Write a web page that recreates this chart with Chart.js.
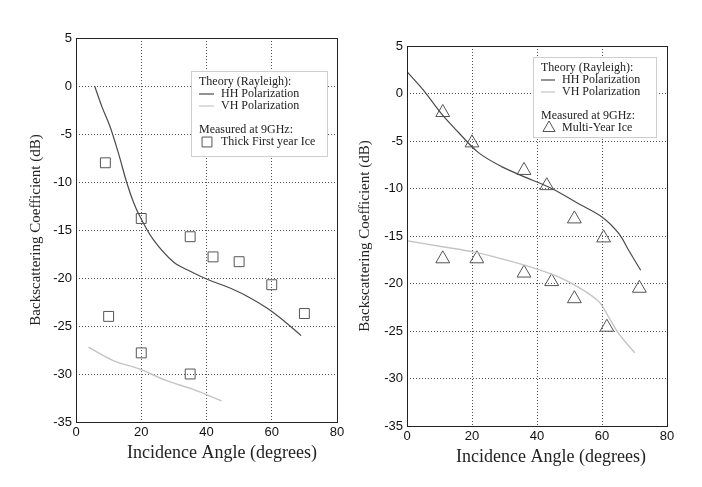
<!DOCTYPE html>
<html>
<head>
<meta charset="utf-8">
<script src="https://cdn.jsdelivr.net/npm/chart.js@4/dist/chart.umd.min.js"></script>
<style>
  body { margin: 0; background: #fff; }
  .wrap { position: absolute; top: 0; width: 351px; height: 487px; }
</style>
</head>
<body>
<div class="wrap" style="left:0"><canvas id="leftChart" width="351" height="487"></canvas></div>
<div class="wrap" style="left:351px"><canvas id="rightChart" width="351" height="487"></canvas></div>
<script>
// ticks
const xTicks = [0, 20, 40, 60, 80];
const yTicks = [5, 0, -5, -10, -15, -20, -25, -30, -35];

// left panel: thick first year ice
const leftHHAngle = [5.7, 8, 10.4, 13, 15.5, 17.5, 19.6, 23.7, 29.8, 35, 40, 48.2, 53, 58.4, 63.5, 69];
const leftHHdB = [0, -2.2, -4.2, -7, -10, -12, -13.6, -16, -18.3, -19.3, -20.1, -21.2, -22, -23.1, -24.4, -26];
const leftVHAngle = [3.8, 11.4, 19.6, 27.8, 35.9, 44.6];
const leftVHdB = [-27.2, -28.6, -29.5, -30.7, -31.6, -32.8];
const leftMeasAngle = [9, 10, 20, 20, 35, 35, 42, 50, 60, 70];
const leftMeasdB = [-8, -24, -13.8, -27.8, -15.7, -30, -17.8, -18.3, -20.7, -23.7];

// right panel: multi-year ice
const rightHHAngle = [0, 5.4, 10.5, 15.7, 21.9, 29.1, 36.3, 44.5, 52.8, 60, 65.2, 68.2, 71.9];
const rightHHdB = [2.3, 0.2, -2.1, -4.05, -6.2, -7.7, -8.8, -10, -11.6, -13, -14.75, -16.5, -18.6];
const rightVHAngle = [0, 10.5, 20.8, 29.1, 38.4, 46.6, 52.8, 59, 62, 65.2, 70.1];
const rightVHdB = [-15.5, -16.1, -16.7, -17.4, -18.3, -19.3, -20.4, -21.9, -23.5, -25.3, -27.3];
const rightMeasAngle = [11, 20, 36, 43, 51.5, 60.5, 71.5, 11, 21.5, 36, 44.5, 51.5, 61.5];
const rightMeasdB = [-2, -5.2, -8.1, -9.7, -13.2, -15.2, -20.5, -17.4, -17.4, -18.9, -19.8, -21.6, -24.6];

const hhColor = "#4a4a4a";
const vhColor = "#c4c4c4";
const markColor = "#555555";
const serif = "'Liberation Serif', 'Times New Roman', serif";
const sans = "'Liberation Sans', Arial, sans-serif";

const toPoints = (xs, ys) => xs.map((x, i) => ({ x: x, y: ys[i] }));

// frame, x title and legend box drawn on top of the plot
const framePlugin = {
  id: "frame",
  afterDraw(chart, args, opts) {
    const { ctx, chartArea: a } = chart;
    ctx.save();
    ctx.strokeStyle = "#222";
    ctx.lineWidth = 1;
    ctx.strokeRect(a.left + 0.5, a.top + 0.5, a.right - a.left, a.bottom - a.top);

    ctx.fillStyle = "#222";
    ctx.font = "18px " + serif;
    ctx.textAlign = "center";
    ctx.textBaseline = "middle";
    ctx.fillText("Incidence Angle (degrees)", opts.titleX, opts.titleY);

    const b = opts.box;
    ctx.fillStyle = "#fff";
    ctx.fillRect(b.x, b.y, b.w, b.h);
    ctx.strokeStyle = "#cfcfcf";
    ctx.strokeRect(b.x + 0.5, b.y + 0.5, b.w, b.h);

    ctx.fillStyle = "#222";
    ctx.font = "12px " + serif;
    ctx.textAlign = "left";
    const tx = b.x + 8;
    const y0 = b.y + 11;
    ctx.fillText("Theory (Rayleigh):", tx, y0);
    ctx.fillText("HH Polarization", tx + opts.labelOffset, y0 + 12);
    ctx.fillText("VH Polarization", tx + opts.labelOffset, y0 + 24);
    ctx.fillText("Measured at 9GHz:", tx, y0 + 48);
    ctx.fillText(opts.measLabel, tx + opts.labelOffset, y0 + 60);

    ctx.lineWidth = 1.2;
    ctx.strokeStyle = hhColor;
    ctx.beginPath();
    ctx.moveTo(tx, y0 + 12);
    ctx.lineTo(tx + opts.labelOffset - 7, y0 + 12);
    ctx.stroke();
    ctx.strokeStyle = vhColor;
    ctx.beginPath();
    ctx.moveTo(tx, y0 + 24);
    ctx.lineTo(tx + opts.labelOffset - 7, y0 + 24);
    ctx.stroke();

    ctx.strokeStyle = markColor;
    ctx.fillStyle = "#fff";
    ctx.lineWidth = 1;
    Chart.helpers.drawPoint(ctx, { pointStyle: opts.marker, radius: opts.markerRadius, borderWidth: 1 },
      tx + 8, y0 + 60);
    ctx.restore();
  },
};

function makeChart(id, d, p) {
  new Chart(document.getElementById(id), {
    type: "scatter",
    data: {
      datasets: [
        {
          data: toPoints(d.hhX, d.hhY),
          showLine: true,
          borderColor: hhColor,
          borderWidth: 1.2,
          pointRadius: 0,
          tension: 0.35,
        },
        {
          data: toPoints(d.vhX, d.vhY),
          showLine: true,
          borderColor: vhColor,
          borderWidth: 1.4,
          pointRadius: 0,
          tension: 0.35,
        },
        {
          data: toPoints(d.mX, d.mY),
          showLine: false,
          pointStyle: p.marker,
          pointRadius: p.markerRadius,
          pointBorderColor: markColor,
          pointBackgroundColor: "rgba(0,0,0,0)",
          pointBorderWidth: 1,
        },
      ],
    },
    options: {
      responsive: false,
      animation: false,
      layout: { padding: { top: p.top, right: p.right, left: 0, bottom: 0 } },
      plugins: {
        legend: { display: false },
        tooltip: { enabled: false },
        frame: p.legend,
      },
      scales: {
        x: {
          type: "linear",
          min: 0,
          max: 80,
          afterBuildTicks: (s) => { s.ticks = xTicks.map((v) => ({ value: v })); },
          afterFit: (s) => { s.height = p.xHeight; },
          grid: { color: "#555", drawTicks: false },
          border: { display: false, dash: [1, 2] },
          ticks: { color: "#111", font: { family: sans, size: 13 }, padding: 3 },
        },
        y: {
          type: "linear",
          min: -35,
          max: 5,
          afterBuildTicks: (s) => { s.ticks = yTicks.map((v) => ({ value: v })); },
          afterFit: (s) => { s.width = p.yWidth; },
          grid: { color: "#555", drawTicks: false },
          border: { display: false, dash: [1, 2] },
          ticks: { color: "#111", font: { family: sans, size: 13 }, padding: 4 },
          title: {
            display: true,
            text: "Backscattering Coefficient (dB)",
            color: "#222",
            font: { family: serif, size: 15 },
            padding: { bottom: 0, top: p.yTitlePad },
          },
        },
      },
    },
    plugins: [framePlugin],
  });
}

makeChart(
  "leftChart",
  { hhX: leftHHAngle, hhY: leftHHdB, vhX: leftVHAngle, vhY: leftVHdB, mX: leftMeasAngle, mY: leftMeasdB },
  {
    top: 38, right: 14, xHeight: 65, yWidth: 76, yTitlePad: 27,
    marker: "rect", markerRadius: 7,
    legend: {
      box: { x: 191, y: 71, w: 136, h: 85 }, labelOffset: 22, measLabel: "Thick First year Ice",
      marker: "rect", markerRadius: 7, titleX: 222, titleY: 453,
    },
  }
);

makeChart(
  "rightChart",
  { hhX: rightHHAngle, hhY: rightHHdB, vhX: rightVHAngle, vhY: rightVHdB, mX: rightMeasAngle, mY: rightMeasdB },
  {
    top: 46, right: 35, xHeight: 61, yWidth: 56, yTitlePad: 5,
    marker: "triangle", markerRadius: 8,
    legend: {
      box: { x: 182, y: 57, w: 123, h: 80 }, labelOffset: 21, measLabel: "Multi-Year Ice",
      marker: "triangle", markerRadius: 7, titleX: 200, titleY: 457,
    },
  }
);
</script>
</body>
</html>
